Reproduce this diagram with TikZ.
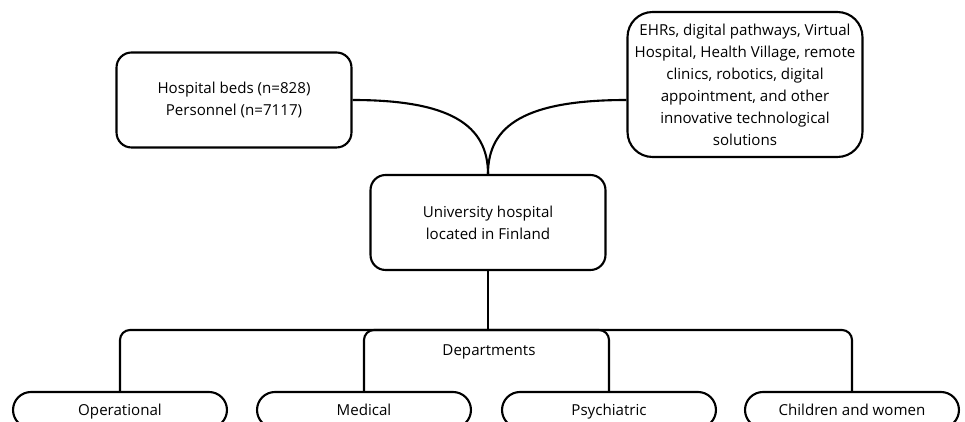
\documentclass[tikz,border=0pt]{standalone}
\usepackage{fontspec}
\setmainfont{Open Sans}
\begin{document}
\begin{tikzpicture}
        [x=0.02cm, y=-0.02cm, line width=1.2pt,
        box/.style={draw, rounded corners=0.3cm, align=center, inner sep=2pt, font=\fontsize{8.6}{12.5}\selectfont, minimum width=4.7cm, minimum height=1.9cm},
        dept/.style={draw, rounded corners=0.36cm, inner sep=2pt, text height=1.6ex, text depth=0.4ex, font=\fontsize{8.6}{12.5}\selectfont, minimum width=4.28cm, minimum height=0.72cm}]
        \clip (0,0) rectangle (965,422);
        \node[box] (beds) at (234,100) {Hospital beds (n=828)\\Personnel (n=7117)};
        \node[box, minimum height=2.9cm, rounded corners=0.5cm] (tech) at (745,84.5) {EHRs, digital pathways, Virtual\\Hospital, Health Village, remote\\clinics, robotics, digital\\appointment, and other\\innovative technological\\solutions};
        \node[box] (uni) at (488,222.5) {University hospital\\located in Finland};
        \node[dept] (op) at (120,410) {Operational};
        \node[dept] (med) at (364,410) {Medical};
        \node[dept] (psy) at (609,410) {Psychiatric};
        \node[dept] (child) at (852,410) {Children and women};
        \node[font=\fontsize{8.6}{12.5}\selectfont] (deps) at (489,352) {Departments};
        \coordinate (J) at (488,330);
        
        \draw (beds.east) .. controls (450,100) and (488,125) .. (uni.north);
        \draw (tech.west |- beds.east) .. controls (526,100) and (488,125) .. (uni.north);
        \draw (uni.south) -- (J);
        \draw[rounded corners=0.2cm] (op.north) |- (J) -| (child.north);
        \draw[rounded corners=0.2cm] (med.north) |- (J) -| (psy.north);
    \end{tikzpicture}
\end{document}
